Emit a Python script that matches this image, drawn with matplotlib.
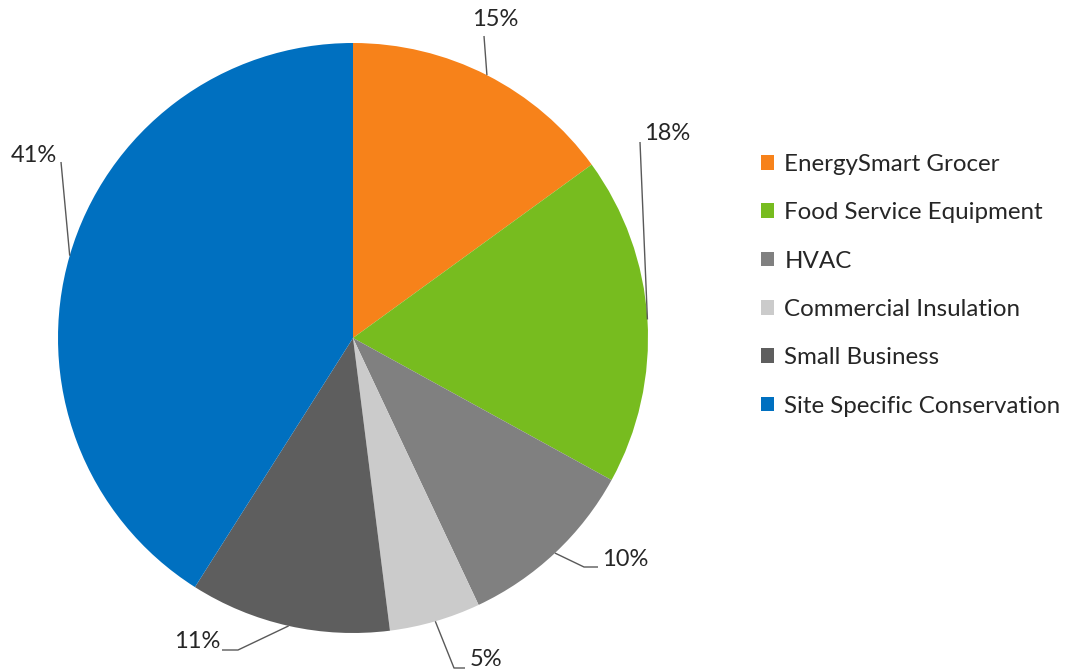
import matplotlib
matplotlib.use("Agg")
import matplotlib.pyplot as plt
import numpy as np

plt.rcParams['font.family'] = ['Lato', 'DejaVu Sans']

categories = ["EnergySmart Grocer", "Food Service Equipment", "HVAC",
              "Commercial Insulation", "Small Business", "Site Specific Conservation"]
shares = [15, 18, 10, 5, 11, 41]
colors = ["#F7821A", "#77BC1F", "#808080", "#CBCBCB", "#5E5E5E", "#0070C0"]

W, H = 1065, 670
fig = plt.figure(figsize=(W / 100, H / 100), dpi=100)
ax = fig.add_axes([0, 0, 1, 1])

cx, cy, R = 353, H - 338, 295
wedges, _ = ax.pie(shares, colors=colors, startangle=90, counterclock=False,
                   center=(cx, cy), radius=R, frame=True,
                   wedgeprops=dict(linewidth=0))
ax.set_xlim(0, W)
ax.set_ylim(0, H)
ax.set_aspect('equal')
ax.axis('off')

# label layout: text centre and elbow path (pixel coords, y measured from top)
label_layout = [
    dict(text=(495, 20), path=[(484, 36)]),
    dict(text=(667, 134), path=[(640, 142)]),
    dict(text=(625, 559), path=[(598, 567), (584, 567)]),
    dict(text=(486, 659), path=[(465, 668), (454, 668)]),
    dict(text=(197, 641), path=[(222, 650), (238, 650)]),
    dict(text=(34, 155), path=[(61, 162)]),
]

lead_color = "#595959"
for w, val, lay in zip(wedges, shares, label_layout):
    mid = np.deg2rad((w.theta1 + w.theta2) / 2)
    edge_pt = (cx + R * np.cos(mid), cy + R * np.sin(mid))
    pts = [(x, H - y) for x, y in lay['path']] + [edge_pt]
    xs, ys = zip(*pts)
    ax.plot(xs, ys, color=lead_color, lw=1.0, solid_capstyle='butt')
    tx, ty = lay['text']
    ax.text(tx, H - ty, f"{val}%", ha='center', va='center',
            fontsize=17, color="#262626")

leg = ax.legend(wedges, categories, loc='upper left',
                bbox_to_anchor=(761 / W, 1 - 154 / H), frameon=False,
                fontsize=17.4, handlelength=0.55, handleheight=0.55,
                handletextpad=0.42, labelspacing=1.13, borderaxespad=0,
                borderpad=0)
for t in leg.get_texts():
    t.set_color("#262626")

fig.savefig("out.png", dpi=100)
